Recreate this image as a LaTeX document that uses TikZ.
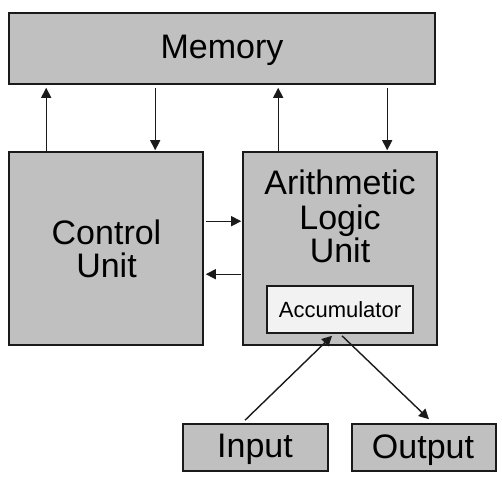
\documentclass[tikz,border=0pt]{standalone}
\usepackage{fontspec}
\setmainfont{Liberation Sans}
\usetikzlibrary{arrows.meta,calc}
\definecolor{boxgray}{HTML}{C0C0C0}
\definecolor{accfill}{HTML}{F2F2F2}
\definecolor{edge}{HTML}{1A1A1A}
\begin{document}
\begin{tikzpicture}[x=1pt,y=-1pt,
 box/.style={draw=edge, line width=1.6pt, fill=boxgray, inner sep=0pt},
 big/.style={font=\fontsize{34}{37}\selectfont, anchor=base, inner sep=0pt},
 small/.style={font=\fontsize{22}{24}\selectfont, anchor=base, inner sep=0pt},
 arr/.style={draw=edge, line width=1.4pt, -{Triangle[length=10pt,width=10pt]}}]
\useasboundingbox (0,0) rectangle (502,480);
\fill[white] (0,0) rectangle (502,480);
% boxes
\node[box, minimum width=426pt, minimum height=71pt] (mem) at (222,48.5) {};
\node[box, minimum width=194pt, minimum height=193pt] (cu) at (106,248.5) {};
\node[box, minimum width=194pt, minimum height=193pt] (alu) at (340,248.5) {};
\node[box, fill=accfill, minimum width=146pt, minimum height=47pt] (acc) at (340,309.5) {};
\node[box, minimum width=145pt, minimum height=47pt] (in) at (255.5,447.5) {};
\node[box, minimum width=144pt, minimum height=47pt] (out) at (424,447.5) {};
% texts
\node[big] (tmem) at (222,58) {Memory};
\node[big] (tcu1) at (106.5,244) {Control};
\node[big] (tcu2) at (106.5,277.3) {Unit};
\node[big] (talu1) at (340,194.3) {Arithmetic};
\node[big] (talu2) at (340,229.3) {Logic};
\node[big] (talu3) at (340,262.7) {Unit};
\node[small] (tacc) at (340,317.3) {Accumulator};
\node[big] (tin) at (255,457.7) {Input};
\node[big] (tout) at (423,458) {Output};
% memory <-> control unit
\draw[arr] ($(cu.north west)+(38,0)$) -- ($(mem.south west)+(38,3)$);
\draw[arr] ($(mem.south west)+(147,3)$) -- ($(cu.north west)+(147,-1)$);
% memory <-> alu
\coordinate (a1) at ($(alu.north west)+(36,0)$);
\coordinate (a2) at ($(alu.north west)+(145,0)$);
\draw[arr] (a1) -- ($(a1 |- mem.south)+(0,3)$);
\draw[arr] ($(a2 |- mem.south)+(0,3)$) -- ($(a2)+(0,-1)$);
% control unit <-> alu
\draw[arr] ($(cu.north east)+(2,70)$) -- ($(alu.north west)+(-1,70)$);
\draw[arr] ($(alu.north west)+(-1,123)$) -- ($(cu.north east)+(2,123)$);
% input / output
\draw[arr] ($(in.north)+(-10.5,-3)$) -- ($(acc.south)+(-8,2)$);
\draw[arr] ($(acc.south)+(2,2)$) -- ($(out.north)+(5,-4)$);
\end{tikzpicture}
\end{document}
